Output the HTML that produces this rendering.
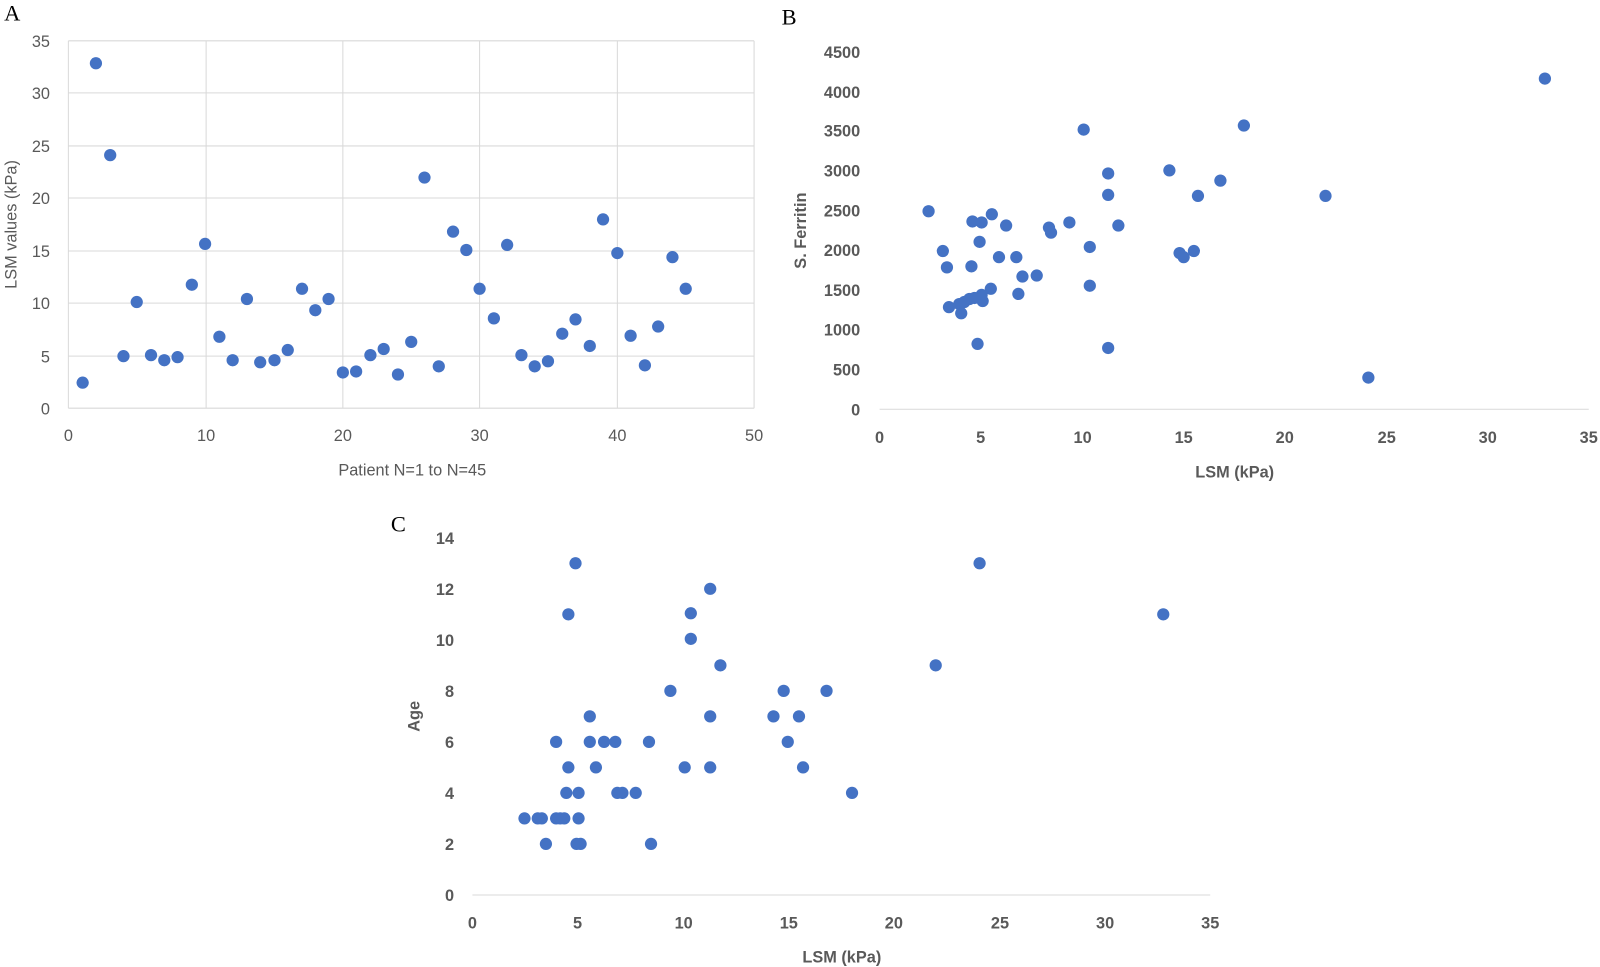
<!DOCTYPE html>
<html><head><meta charset="utf-8"><style>
html,body{margin:0;padding:0;background:#fff;}
svg{display:block}
text{font-family:"Liberation Sans",sans-serif;fill:#595959;font-size:16px}
.b{font-weight:bold}
.L{font-family:"Liberation Serif",serif;fill:#000;font-size:22px}
</style></head><body>
<svg width="1600" height="967" viewBox="0 0 1568 947.6" preserveAspectRatio="none" xmlns="http://www.w3.org/2000/svg">
<g stroke="#d9d9d9" stroke-width="1">
<line x1="67" y1="40" x2="739" y2="40"/><line x1="67" y1="91" x2="739" y2="91"/><line x1="67" y1="143" x2="739" y2="143"/><line x1="67" y1="194" x2="739" y2="194"/><line x1="67" y1="246" x2="739" y2="246"/><line x1="67" y1="297" x2="739" y2="297"/><line x1="67" y1="349" x2="739" y2="349"/><line x1="67" y1="400" x2="739" y2="400"/>
<line x1="67" y1="40" x2="67" y2="400"/><line x1="202" y1="40" x2="202" y2="400"/><line x1="336" y1="40" x2="336" y2="400"/><line x1="470" y1="40" x2="470" y2="400"/><line x1="605" y1="40" x2="605" y2="400"/><line x1="739" y1="40" x2="739" y2="400"/>
<line x1="862" y1="401" x2="1557" y2="401"/>
<line x1="463" y1="877" x2="1186" y2="877"/>
</g>
<text class="L" x="4" y="20">A</text>
<text class="L" x="766" y="24">B</text>
<text class="L" x="383" y="521">C</text>
<g text-anchor="end">
<text x="49" y="46">35</text><text x="49" y="97">30</text><text x="49" y="149">25</text><text x="49" y="200">20</text><text x="49" y="252">15</text><text x="49" y="303">10</text><text x="49" y="355">5</text><text x="49" y="406">0</text>
</g>
<g text-anchor="middle">
<text x="67" y="432">0</text><text x="202" y="432">10</text><text x="336" y="432">20</text><text x="470" y="432">30</text><text x="605" y="432">40</text><text x="739" y="432">50</text>
<text x="404" y="466" font-size="18">Patient N=1 to N=45</text>
</g>
<text transform="translate(16,220) rotate(-90)" text-anchor="middle" font-size="18">LSM values (kPa)</text>
<g text-anchor="end">
<text class="b" x="843" y="57">4500</text><text class="b" x="843" y="96">4000</text><text class="b" x="843" y="134">3500</text><text class="b" x="843" y="173">3000</text><text class="b" x="843" y="212">2500</text><text class="b" x="843" y="251">2000</text><text class="b" x="843" y="290">1500</text><text class="b" x="843" y="329">1000</text><text class="b" x="843" y="368">500</text><text class="b" x="843" y="407">0</text>
</g>
<g text-anchor="middle">
<text class="b" x="862" y="434">0</text><text class="b" x="961" y="434">5</text><text class="b" x="1061" y="434">10</text><text class="b" x="1160" y="434">15</text><text class="b" x="1259" y="434">20</text><text class="b" x="1359" y="434">25</text><text class="b" x="1458" y="434">30</text><text class="b" x="1557" y="434">35</text>
<text class="b" x="1210" y="468" font-size="18">LSM (kPa)</text>
</g>
<text class="b" transform="translate(790,226) rotate(-90)" text-anchor="middle" font-size="18">S. Ferritin</text>
<g text-anchor="end">
<text class="b" x="445" y="533">14</text><text class="b" x="445" y="583">12</text><text class="b" x="445" y="633">10</text><text class="b" x="445" y="683">8</text><text class="b" x="445" y="733">6</text><text class="b" x="445" y="783">4</text><text class="b" x="445" y="833">2</text><text class="b" x="445" y="883">0</text>
</g>
<g text-anchor="middle">
<text class="b" x="463" y="910">0</text><text class="b" x="566" y="910">5</text><text class="b" x="670" y="910">10</text><text class="b" x="773" y="910">15</text><text class="b" x="876" y="910">20</text><text class="b" x="980" y="910">25</text><text class="b" x="1083" y="910">30</text><text class="b" x="1186" y="910">35</text>
<text class="b" x="825" y="943" font-size="18">LSM (kPa)</text>
</g>
<text class="b" transform="translate(411,702) rotate(-90)" text-anchor="middle" font-size="18">Age</text>
<g fill="#4472c4">
<circle cx="81" cy="375" r="6"/><circle cx="94" cy="62" r="6"/><circle cx="108" cy="152" r="6"/><circle cx="121" cy="349" r="6"/><circle cx="134" cy="296" r="6"/><circle cx="148" cy="348" r="6"/><circle cx="161" cy="353" r="6"/><circle cx="174" cy="350" r="6"/><circle cx="188" cy="279" r="6"/><circle cx="201" cy="239" r="6"/><circle cx="215" cy="330" r="6"/><circle cx="228" cy="353" r="6"/><circle cx="242" cy="293" r="6"/><circle cx="255" cy="355" r="6"/><circle cx="269" cy="353" r="6"/><circle cx="282" cy="343" r="6"/><circle cx="296" cy="283" r="6"/><circle cx="309" cy="304" r="6"/><circle cx="322" cy="293" r="6"/><circle cx="336" cy="365" r="6"/><circle cx="349" cy="364" r="6"/><circle cx="363" cy="348" r="6"/><circle cx="376" cy="342" r="6"/><circle cx="390" cy="367" r="6"/><circle cx="403" cy="335" r="6"/><circle cx="416" cy="174" r="6"/><circle cx="430" cy="359" r="6"/><circle cx="444" cy="227" r="6"/><circle cx="457" cy="245" r="6"/><circle cx="470" cy="283" r="6"/><circle cx="484" cy="312" r="6"/><circle cx="497" cy="240" r="6"/><circle cx="511" cy="348" r="6"/><circle cx="524" cy="359" r="6"/><circle cx="537" cy="354" r="6"/><circle cx="551" cy="327" r="6"/><circle cx="564" cy="313" r="6"/><circle cx="578" cy="339" r="6"/><circle cx="591" cy="215" r="6"/><circle cx="605" cy="248" r="6"/><circle cx="618" cy="329" r="6"/><circle cx="632" cy="358" r="6"/><circle cx="645" cy="320" r="6"/><circle cx="659" cy="252" r="6"/><circle cx="672" cy="283" r="6"/>
<circle cx="910" cy="207" r="6"/><circle cx="924" cy="246" r="6"/><circle cx="928" cy="262" r="6"/><circle cx="930" cy="301" r="6"/><circle cx="940" cy="298" r="6"/><circle cx="942" cy="307" r="6"/><circle cx="950" cy="293" r="6"/><circle cx="952" cy="261" r="6"/><circle cx="953" cy="217" r="6"/><circle cx="958" cy="337" r="6"/><circle cx="960" cy="237" r="6"/><circle cx="962" cy="218" r="6"/><circle cx="962" cy="289" r="6"/><circle cx="963" cy="295" r="6"/><circle cx="971" cy="283" r="6"/><circle cx="972" cy="210" r="6"/><circle cx="986" cy="221" r="6"/><circle cx="979" cy="252" r="6"/><circle cx="996" cy="252" r="6"/><circle cx="998" cy="288" r="6"/><circle cx="1002" cy="271" r="6"/><circle cx="1016" cy="270" r="6"/><circle cx="1028" cy="223" r="6"/><circle cx="1030" cy="228" r="6"/><circle cx="1048" cy="218" r="6"/><circle cx="1062" cy="127" r="6"/><circle cx="1068" cy="242" r="6"/><circle cx="1068" cy="280" r="6"/><circle cx="1086" cy="170" r="6"/><circle cx="1086" cy="191" r="6"/><circle cx="1086" cy="341" r="6"/><circle cx="1096" cy="221" r="6"/><circle cx="1146" cy="167" r="6"/><circle cx="1156" cy="248" r="6"/><circle cx="1160" cy="252" r="6"/><circle cx="1170" cy="246" r="6"/><circle cx="1174" cy="192" r="6"/><circle cx="1196" cy="177" r="6"/><circle cx="1219" cy="123" r="6"/><circle cx="1299" cy="192" r="6"/><circle cx="1341" cy="370" r="6"/><circle cx="1514" cy="77" r="6"/><circle cx="945" cy="296" r="6"/><circle cx="955" cy="292" r="6"/>
<circle cx="514" cy="802" r="6"/><circle cx="527" cy="802" r="6"/><circle cx="531" cy="802" r="6"/><circle cx="535" cy="827" r="6"/><circle cx="545" cy="727" r="6"/><circle cx="545" cy="802" r="6"/><circle cx="549" cy="802" r="6"/><circle cx="553" cy="802" r="6"/><circle cx="555" cy="777" r="6"/><circle cx="557" cy="752" r="6"/><circle cx="557" cy="602" r="6"/><circle cx="564" cy="552" r="6"/><circle cx="565" cy="827" r="6"/><circle cx="567" cy="802" r="6"/><circle cx="567" cy="777" r="6"/><circle cx="569" cy="827" r="6"/><circle cx="578" cy="702" r="6"/><circle cx="578" cy="727" r="6"/><circle cx="584" cy="752" r="6"/><circle cx="592" cy="727" r="6"/><circle cx="603" cy="727" r="6"/><circle cx="605" cy="777" r="6"/><circle cx="610" cy="777" r="6"/><circle cx="623" cy="777" r="6"/><circle cx="636" cy="727" r="6"/><circle cx="638" cy="827" r="6"/><circle cx="657" cy="677" r="6"/><circle cx="671" cy="752" r="6"/><circle cx="677" cy="626" r="6"/><circle cx="677" cy="601" r="6"/><circle cx="696" cy="577" r="6"/><circle cx="696" cy="702" r="6"/><circle cx="696" cy="752" r="6"/><circle cx="706" cy="652" r="6"/><circle cx="758" cy="702" r="6"/><circle cx="768" cy="677" r="6"/><circle cx="772" cy="727" r="6"/><circle cx="783" cy="702" r="6"/><circle cx="787" cy="752" r="6"/><circle cx="810" cy="677" r="6"/><circle cx="835" cy="777" r="6"/><circle cx="917" cy="652" r="6"/><circle cx="960" cy="552" r="6"/><circle cx="1140" cy="602" r="6"/>
</g>
</svg>
</body></html>
